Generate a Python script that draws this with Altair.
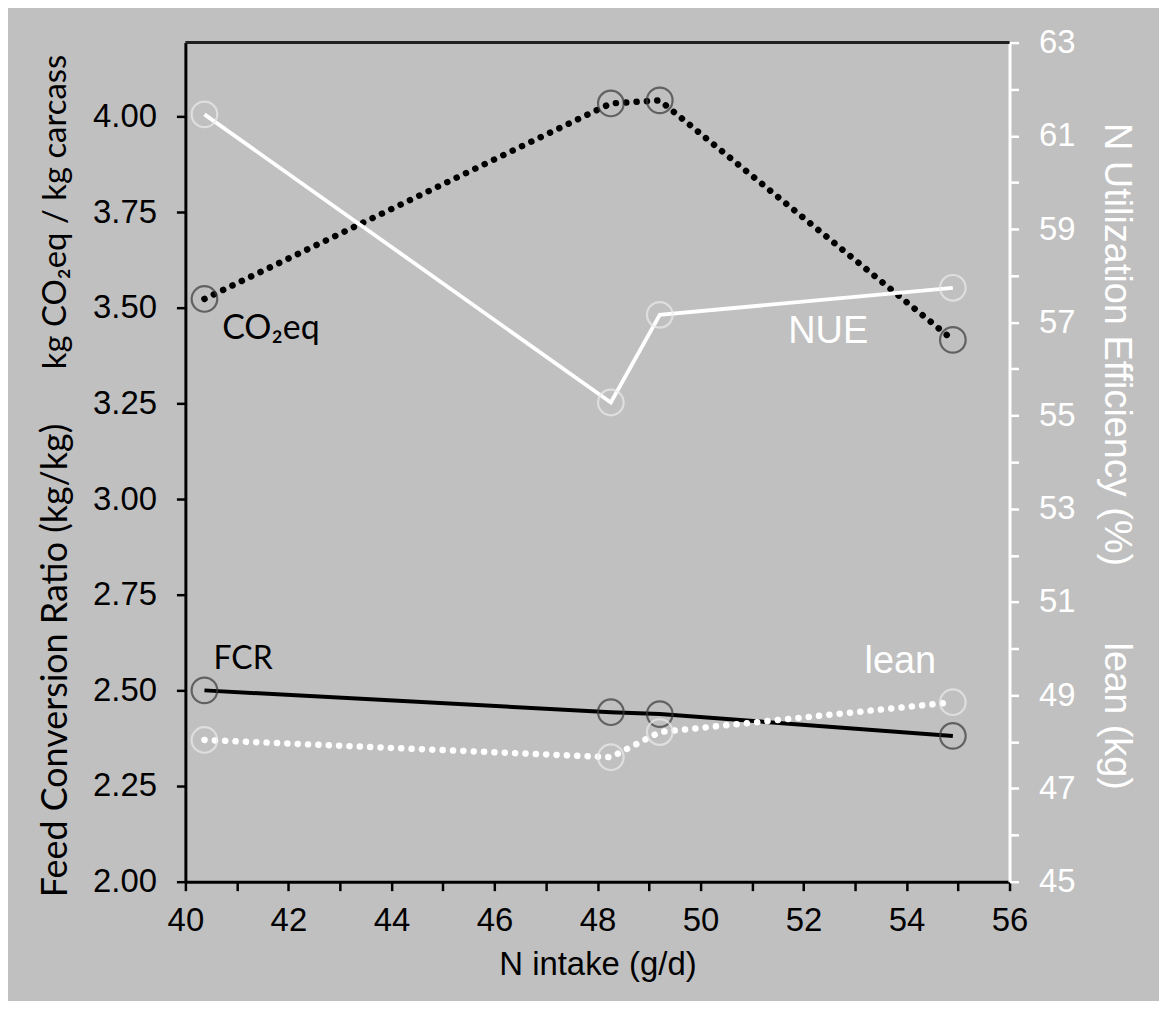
import altair as alt
import pandas as pd

# ---- data ----
n_intake = [40.37, 48.26, 49.21, 54.90]
co2eq = [3.523, 4.034, 4.042, 3.416]      # kg CO2eq / kg carcass (left axis)
fcr = [2.500, 2.443, 2.438, 2.381]        # feed conversion ratio (left axis)
nue = [61.46, 55.28, 57.16, 57.74]        # N utilization efficiency % (right axis)
lean = [48.04, 47.67, 48.21, 48.85]       # lean kg (right axis)

left_label_text = ["CO₂eq", "FCR"]
left_label_x = [41.66, 41.12]
left_label_y = [3.445, 2.581]
left_label_size = [34, 32]
right_label_text = ["NUE", "lean"]
right_label_x = [52.48, 53.88]
right_label_y = [56.80, 49.72]

x_ticks = list(range(40, 57))
left_ticks = [2.00, 2.25, 2.50, 2.75, 3.00, 3.25, 3.50, 3.75, 4.00]
right_ticks = list(range(45, 64))

W, H = 827, 842
BG = "#C0C0C0"
DARK = "#3a3a3a"
LIGHT = "#ececec"
ARIAL = "Liberation Sans"
CALI = "Lato"

df = pd.DataFrame({"x": n_intake, "co2": co2eq, "fcr": fcr, "nue": nue, "lean": lean})
lab_l = pd.DataFrame({"t": left_label_text, "x": left_label_x, "y": left_label_y, "s": left_label_size})
lab_r = pd.DataFrame({"t": right_label_text, "x": right_label_x, "y": right_label_y})
one = pd.DataFrame({"a": [0]})

xscale = alt.Scale(domain=[40, 56], nice=False, zero=False)
lscale = alt.Scale(domain=[2, 4.193], nice=False, zero=False)
rscale = alt.Scale(domain=[45, 63], nice=False, zero=False)

xaxis = alt.Axis(
    values=x_ticks,
    labelExpr="datum.value % 2 == 0 ? datum.label : ''",
    title="N intake (g/d)",
    titleFont=ARIAL, titleFontSize=33, titleFontWeight="normal", titleColor="black",
    titlePadding=11,
    labelFont=ARIAL, labelFontSize=33, labelColor="black", labelPadding=14,
    domainColor="black", domainWidth=3, tickColor="black", tickWidth=2.5, tickSize=9,
    grid=False, labelFlush=False, labelOverlap=False,
)
laxis = alt.Axis(
    values=left_ticks, format=".2f", title=None, orient="left",
    labelFont=ARIAL, labelFontSize=33, labelColor="black", labelPadding=20,
    domainColor="black", domainWidth=3, tickColor="black", tickWidth=2.5, tickSize=9,
    grid=False, labelFlush=False, labelOverlap=False,
)
raxis = alt.Axis(
    values=right_ticks,
    labelExpr="datum.value % 2 == 1 ? datum.label : ''",
    title=None, orient="right",
    labelFont=ARIAL, labelFontSize=33, labelColor="white", labelPadding=20,
    domainColor="white", domainWidth=3, tickColor="white", tickWidth=2.5, tickSize=9,
    grid=False, labelFlush=False, labelOverlap=False,
)

X = alt.X("x:Q", scale=xscale, axis=xaxis)


def YL(f):
    return alt.Y(f, type="quantitative", scale=lscale, axis=laxis)


def YR(f):
    return alt.Y(f, type="quantitative", scale=rscale, axis=raxis)


base = alt.Chart(df)
pt = dict(shape="circle", size=660, filled=False, strokeWidth=2.2)

# left-axis group
co2_line = base.mark_line(color="black", strokeWidth=6.5, strokeDash=[0.1, 10.3], strokeCap="round").encode(
    x=X, y=YL("co2"))
fcr_line = base.mark_line(color="black", strokeWidth=4).encode(x=X, y=YL("fcr"))
co2_pts = base.mark_point(color=DARK, **pt).encode(x=X, y=YL("co2"))
fcr_pts = base.mark_point(color=DARK, **pt).encode(x=X, y=YL("fcr"))
ltext = alt.Chart(lab_l).mark_text(font=CALI, color="black", align="center", baseline="middle").encode(
    x=X, y=YL("y"), text="t:N", size=alt.Size("s:Q", scale=None, legend=None))
left = alt.layer(co2_line, fcr_line, co2_pts, fcr_pts, ltext)

# right-axis group
nue_line = base.mark_line(color="white", strokeWidth=3.8).encode(x=X, y=YR("nue"))
lean_line = base.mark_line(color="white", strokeWidth=6.5, strokeDash=[0.1, 10.3], strokeCap="round").encode(
    x=X, y=YR("lean"))
nue_pts = base.mark_point(color=LIGHT, **pt).encode(x=X, y=YR("nue"))
lean_pts = base.mark_point(color=LIGHT, **pt).encode(x=X, y=YR("lean"))
rtext = alt.Chart(lab_r).mark_text(font=ARIAL, fontSize=38, color="white", align="center", baseline="middle").encode(
    x=X, y=YR("y"), text="t:N")
right = alt.layer(nue_line, lean_line, nue_pts, lean_pts, rtext)

# frame line on top of the plot area and the side titles
top_rule = alt.Chart(one).mark_rule(color="#202020", strokeWidth=3).encode(
    x=alt.value(0), x2=alt.value(W), y=alt.value(0))


def side_title(txt, px, py, font, size, angle, color):
    return alt.Chart(one).mark_text(text=txt, font=font, fontSize=size, angle=angle, color=color,
                                    align="center", baseline="middle").encode(
        x=alt.value(px), y=alt.value(py))


t1 = side_title("kg CO₂eq / kg carcass", -130, 170, CALI, 33, 270, "black")
t2 = side_title("Feed Conversion Ratio (kg/kg)", -130, 620, CALI, 36, 270, "black")
t3 = side_title("N Utilization Efficiency (%)", 934, 303, ARIAL, 38, 90, "white")
t4 = side_title("lean (kg)", 934, 676, ARIAL, 38, 90, "white")

chart = alt.layer(left, right, top_rule, t1, t2, t3, t4).resolve_scale(y="independent").properties(
    width=W, height=H,
    autosize=alt.AutoSizeParams(type="none"),
    padding={"left": 178, "top": 33, "right": 150, "bottom": 118},
    background=BG,
).configure_view(stroke=None, fill=BG)

chart.save("out.html", embed_options={"renderer": "svg", "actions": False})
